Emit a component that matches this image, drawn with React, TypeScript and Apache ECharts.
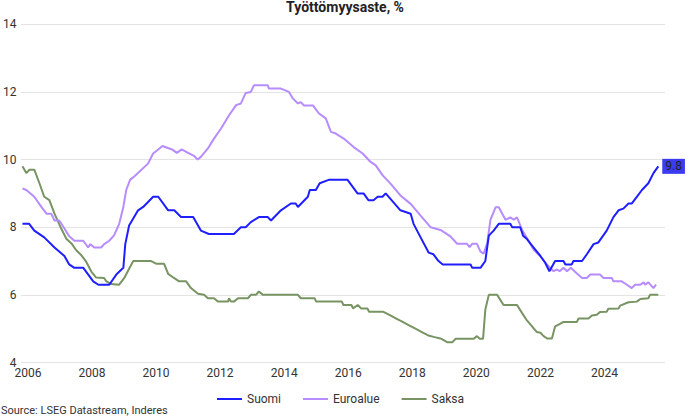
import React, { useEffect, useRef } from "react";
import * as echarts from "echarts";

const TITLE = "Työttömyysaste, %";
const SOURCE = "Source: LSEG Datastream, Inderes";
const SERIES_NAMES = ["Suomi", "Euroalue", "Saksa"];
const COLORS = ["#1e1eff", "#b68cff", "#789463"];
const YEAR_TICKS = [2006, 2008, 2010, 2012, 2014, 2016, 2018, 2020, 2022, 2024];

// [decimal year, %]
const suomi: [number, number][] = [
  [2005.83, 8.1], [2006.04, 8.1], [2006.2, 7.9], [2006.51, 7.7], [2006.83, 7.4], [2007.14, 7.15],
  [2007.29, 6.9], [2007.45, 6.8], [2007.73, 6.8], [2008.04, 6.4], [2008.2, 6.3], [2008.54, 6.3],
  [2008.76, 6.6], [2008.98, 6.8], [2009.04, 7.5], [2009.16, 8.05], [2009.44, 8.5], [2009.6, 8.6],
  [2009.91, 8.9], [2010.07, 8.9], [2010.38, 8.5], [2010.57, 8.5], [2010.78, 8.3], [2011.16, 8.3],
  [2011.4, 7.9], [2011.65, 7.8], [2012.43, 7.8], [2012.65, 8.0], [2012.8, 8.0], [2012.96, 8.15],
  [2013.21, 8.3], [2013.49, 8.3], [2013.59, 8.2], [2013.9, 8.5], [2014.21, 8.7], [2014.36, 8.7],
  [2014.43, 8.6], [2014.74, 8.9], [2014.8, 9.1], [2014.99, 9.1], [2015.11, 9.3], [2015.39, 9.4],
  [2015.98, 9.4], [2016.29, 9.0], [2016.48, 9.0], [2016.63, 8.8], [2016.79, 8.8], [2016.92, 8.9],
  [2017.07, 8.9], [2017.17, 9.0], [2017.63, 8.5], [2017.95, 8.4], [2018.04, 8.1], [2018.26, 7.7],
  [2018.51, 7.25], [2018.66, 7.2], [2018.82, 7.0], [2018.95, 6.9], [2019.82, 6.9], [2019.87, 6.8],
  [2020.13, 6.8], [2020.28, 7.0], [2020.39, 7.75], [2020.54, 7.9], [2020.7, 8.1], [2021.06, 8.1],
  [2021.12, 8.0], [2021.37, 8.0], [2021.46, 7.75], [2021.58, 7.65], [2021.79, 7.4], [2022.0, 7.15],
  [2022.15, 6.95], [2022.28, 6.7], [2022.46, 7.0], [2022.72, 7.0], [2022.78, 6.9], [2022.98, 6.9],
  [2023.03, 7.0], [2023.3, 7.0], [2023.45, 7.2], [2023.66, 7.5], [2023.81, 7.55], [2024.07, 7.9],
  [2024.28, 8.3], [2024.44, 8.5], [2024.59, 8.55], [2024.75, 8.7], [2024.85, 8.7], [2025.01, 8.9],
  [2025.17, 9.1], [2025.37, 9.3], [2025.53, 9.6], [2025.68, 9.8],
];

const euroalue: [number, number][] = [
  [2005.83, 9.15], [2005.95, 9.1], [2006.2, 8.9], [2006.42, 8.6], [2006.58, 8.4], [2006.73, 8.4],
  [2006.83, 8.2], [2006.98, 8.2], [2007.14, 7.96], [2007.29, 7.73], [2007.45, 7.6], [2007.73, 7.6],
  [2007.88, 7.4], [2007.95, 7.5], [2008.07, 7.4], [2008.29, 7.4], [2008.38, 7.5], [2008.54, 7.6],
  [2008.69, 7.76], [2008.85, 8.1], [2008.98, 8.6], [2009.07, 9.1], [2009.19, 9.4], [2009.32, 9.5],
  [2009.75, 9.88], [2009.91, 10.18], [2010.07, 10.3], [2010.2, 10.4], [2010.5, 10.3], [2010.65, 10.2],
  [2010.8, 10.3], [2011.0, 10.2], [2011.2, 10.1], [2011.3, 10.0], [2011.4, 10.08], [2011.62, 10.33],
  [2011.81, 10.62], [2012.03, 10.92], [2012.28, 11.31], [2012.5, 11.61], [2012.65, 11.66], [2012.8, 11.97],
  [2012.96, 12.0], [2013.06, 12.2], [2013.49, 12.2], [2013.52, 12.1], [2013.9, 12.1], [2014.15, 12.0],
  [2014.27, 11.81], [2014.43, 11.66], [2014.52, 11.7], [2014.62, 11.6], [2014.9, 11.6], [2015.08, 11.37],
  [2015.3, 11.22], [2015.46, 10.82], [2015.61, 10.77], [2015.86, 10.62], [2016.17, 10.37], [2016.45, 10.18],
  [2016.7, 9.93], [2016.86, 9.83], [2017.07, 9.54], [2017.32, 9.29], [2017.63, 8.94], [2017.95, 8.69],
  [2018.26, 8.34], [2018.57, 8.0], [2018.88, 7.92], [2019.19, 7.73], [2019.4, 7.51], [2019.71, 7.51],
  [2019.79, 7.41], [2019.87, 7.51], [2020.02, 7.51], [2020.13, 7.28], [2020.23, 7.22], [2020.34, 7.53],
  [2020.44, 8.22], [2020.6, 8.59], [2020.7, 8.59], [2020.91, 8.22], [2021.06, 8.29], [2021.17, 8.22],
  [2021.27, 8.29], [2021.43, 7.92], [2021.58, 7.68], [2021.79, 7.33], [2022.0, 7.14], [2022.21, 6.89],
  [2022.41, 6.7], [2022.52, 6.75], [2022.6, 6.7], [2022.72, 6.8], [2022.83, 6.7], [2022.95, 6.8],
  [2023.14, 6.63], [2023.3, 6.5], [2023.45, 6.5], [2023.55, 6.6], [2023.86, 6.6], [2023.97, 6.5],
  [2024.23, 6.5], [2024.28, 6.4], [2024.54, 6.4], [2024.7, 6.3], [2024.85, 6.2], [2024.96, 6.3],
  [2025.12, 6.3], [2025.22, 6.37], [2025.27, 6.3], [2025.37, 6.37], [2025.53, 6.2], [2025.61, 6.3],
];

const saksa: [number, number][] = [
  [2005.83, 9.8], [2005.95, 9.6], [2006.05, 9.7], [2006.2, 9.7], [2006.36, 9.3], [2006.51, 8.9],
  [2006.67, 8.8], [2006.83, 8.4], [2007.04, 7.96], [2007.2, 7.66], [2007.36, 7.52], [2007.51, 7.32],
  [2007.67, 7.17], [2007.82, 6.98], [2007.98, 6.69], [2008.13, 6.51], [2008.38, 6.5], [2008.45, 6.4],
  [2008.6, 6.32], [2008.85, 6.3], [2009.01, 6.5], [2009.13, 6.72], [2009.29, 7.0], [2009.85, 7.0],
  [2010.0, 6.92], [2010.25, 6.92], [2010.38, 6.62], [2010.56, 6.5], [2010.72, 6.4], [2010.94, 6.4],
  [2011.09, 6.2], [2011.31, 6.03], [2011.5, 6.0], [2011.62, 5.9], [2011.81, 5.9], [2011.93, 5.8],
  [2012.25, 5.8], [2012.28, 5.9], [2012.34, 5.8], [2012.43, 5.8], [2012.56, 5.9], [2012.87, 5.9],
  [2012.96, 6.0], [2013.12, 6.0], [2013.21, 6.1], [2013.34, 6.0], [2014.43, 6.0], [2014.52, 5.9],
  [2014.95, 5.9], [2015.0, 5.8], [2015.8, 5.8], [2015.85, 5.7], [2016.1, 5.7], [2016.15, 5.6],
  [2016.3, 5.7], [2016.4, 5.6], [2016.6, 5.6], [2016.65, 5.5], [2017.1, 5.5], [2017.3, 5.4],
  [2017.5, 5.3], [2017.7, 5.2], [2017.9, 5.1], [2018.1, 5.0], [2018.3, 4.9], [2018.5, 4.8],
  [2018.7, 4.75], [2018.88, 4.71], [2019.09, 4.6], [2019.25, 4.6], [2019.35, 4.7], [2019.92, 4.7],
  [2020.02, 4.78], [2020.11, 4.7], [2020.21, 4.7], [2020.28, 5.56], [2020.39, 6.0], [2020.65, 6.0],
  [2020.85, 5.7], [2021.27, 5.7], [2021.43, 5.46], [2021.56, 5.27], [2021.74, 5.07], [2021.89, 4.9],
  [2022.0, 4.88], [2022.1, 4.78], [2022.21, 4.71], [2022.36, 4.71], [2022.46, 5.07], [2022.57, 5.12],
  [2022.72, 5.2], [2023.14, 5.2], [2023.19, 5.3], [2023.5, 5.3], [2023.61, 5.39], [2023.76, 5.41],
  [2023.86, 5.49], [2024.07, 5.5], [2024.12, 5.59], [2024.44, 5.6], [2024.49, 5.68], [2024.75, 5.78],
  [2025.01, 5.8], [2025.12, 5.88], [2025.37, 5.9], [2025.42, 6.0], [2025.68, 6.0],
];

const Y_MIN = 4;
const Y_MAX = 14;
const Y_STEP = 2;
const X_MIN = 2005.8;
const X_MAX = 2025.89;

const FONT = "Roboto, 'Noto Sans', sans-serif";

export default function App() {
  const ref = useRef<HTMLDivElement>(null);
  useEffect(() => {
    if (!ref.current) return;
    const chart = echarts.init(ref.current, undefined, { renderer: "svg" });
    const datasets = [suomi, euroalue, saksa];
    chart.setOption({
      animation: false,
      backgroundColor: "#ffffff",
      textStyle: { fontFamily: FONT },
      title: {
        text: TITLE,
        left: "center",
        top: 0,
        padding: 0,
        textStyle: { fontSize: 14, fontWeight: "bold", color: "#222", fontFamily: FONT },
      },
      legend: {
        data: SERIES_NAMES,
        left: 212,
        top: 388,
        icon: "rect",
        itemWidth: 25,
        itemHeight: 2,
        itemGap: 22,
        textStyle: { fontSize: 12, color: "#333", fontFamily: FONT },
      },
      grid: { left: 20, right: 25, top: 24.3, bottom: 55.5, containLabel: false },
      xAxis: {
        type: "value",
        min: X_MIN,
        max: X_MAX,
        axisLine: { show: false },
        axisTick: { show: false },
        splitLine: { show: false },
        axisLabel: {
          customValues: YEAR_TICKS,
          formatter: (v: number) => String(Math.round(v)),
          fontSize: 12,
          color: "#333",
          margin: 4,
          fontFamily: FONT,
        },
      },
      yAxis: {
        type: "value",
        min: Y_MIN,
        max: Y_MAX,
        interval: Y_STEP,
        axisLine: { show: false },
        axisTick: { show: false },
        splitLine: { show: true, lineStyle: { type: "dotted", color: "#c8c8c8", width: 1 } },
        axisLabel: { fontSize: 12, color: "#333", margin: 5, fontFamily: FONT },
      },
      series: SERIES_NAMES.map((name, i) => ({
        name,
        type: "line",
        data: datasets[i],
        showSymbol: false,
        symbol: "none",
        color: COLORS[i],
        lineStyle: { width: 2, color: COLORS[i] },
        z: 10 - i,
        endLabel:
          i === 0
            ? {
                show: true,
                formatter: (p: any) => Number(p.value[1]).toFixed(1),
                backgroundColor: "#3b3bf2",
                color: "#222",
                fontSize: 12,
                padding: [2, 3, 1, 3],
                distance: 4,
                fontFamily: FONT,
              }
            : { show: false },
      })),
      graphic: [
        {
          type: "text",
          left: 1,
          top: 405,
          style: { text: SOURCE, fontSize: 11, fill: "#333", fontFamily: FONT },
        },
      ],
    });
    return () => chart.dispose();
  }, []);
  return (
    <div
      ref={ref}
      style={{ position: "fixed", left: 0, top: 0, width: 690, height: 418 }}
    />
  );
}
